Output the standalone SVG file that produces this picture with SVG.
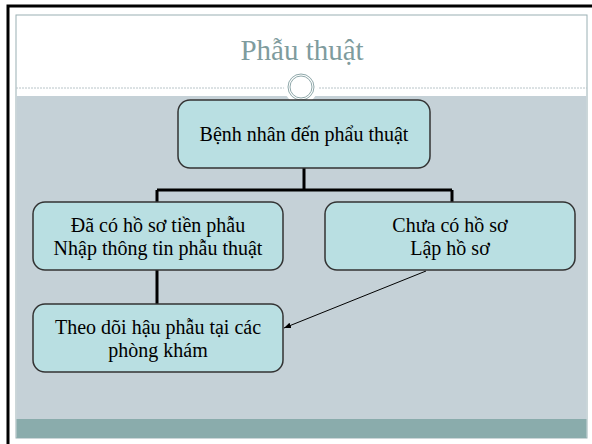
<svg xmlns="http://www.w3.org/2000/svg" width="592" height="444" viewBox="0 0 592 444">
<defs>
<style>
.box{fill:#B9DFE2;stroke:#333;stroke-width:1.5}
.t{font-family:"Liberation Serif","Times New Roman",serif;font-size:20px;fill:#000;text-anchor:middle}
.conn{stroke:#000;stroke-width:3;fill:none}
</style>
<marker id="ah" viewBox="0 0 10 10" refX="10" refY="5" markerWidth="7" markerHeight="7" orient="auto-start-reverse" markerUnits="userSpaceOnUse">
<path d="M0,1 L10,5 L0,9 z" fill="#000"/>
</marker>
</defs>
<rect x="0" y="0" width="592" height="444" fill="#fff"/>
<path d="M8,444 V6 H592" fill="none" stroke="#000" stroke-width="3"/>
<rect x="16" y="15" width="571" height="423" fill="#fff" stroke="#9AB0B4" stroke-width="1"/>
<rect x="16.5" y="96" width="570" height="323" fill="#C5D1D7"/>
<rect x="16.5" y="419" width="570" height="19" fill="#8AACAC"/>
<line x1="16" y1="88" x2="587" y2="88" stroke="#B8C4C8" stroke-width="1" stroke-dasharray="2,1"/>
<circle cx="301" cy="87" r="17" fill="#fff"/>
<circle cx="301" cy="87" r="13" fill="none" stroke="#8FA8AA" stroke-width="1"/>
<circle cx="301" cy="87" r="11" fill="none" stroke="#8FA8AA" stroke-width="1"/>
<text x="302" y="60" font-family="'Liberation Serif','Times New Roman',serif" font-size="29" fill="#7F9C9E" text-anchor="middle">Phẫu thuật</text>
<g id="connectors">
<path class="conn" d="M304,168 V190 M157,190 H452 M157,190 V202 M452,190 V202 M157,270 V304"/>
<line x1="426" y1="271" x2="284" y2="328" stroke="#000" stroke-width="1" marker-end="url(#ah)"/>
</g>
<g id="n1"><rect class="box" x="178" y="100" width="252" height="68" rx="12"/><text class="t" x="304" y="141">Bệnh nhân đến phẩu thuật</text></g>
<g id="n2"><rect class="box" x="33" y="202" width="250" height="68" rx="12"/><text class="t" x="158" y="232">Đã có hồ sơ tiền phẫu</text><text class="t" x="158" y="255">Nhập thông tin phẫu thuật</text></g>
<g id="n3"><rect class="box" x="325" y="202" width="250" height="68" rx="12"/><text class="t" x="450" y="232">Chưa có hồ sơ</text><text class="t" x="450" y="255">Lập hồ sơ</text></g>
<g id="n4"><rect class="box" x="33" y="304" width="250" height="68" rx="12"/><text class="t" x="158" y="334">Theo dõi hậu phẫu tại các</text><text class="t" x="158" y="357">phòng khám</text></g>
</svg>
